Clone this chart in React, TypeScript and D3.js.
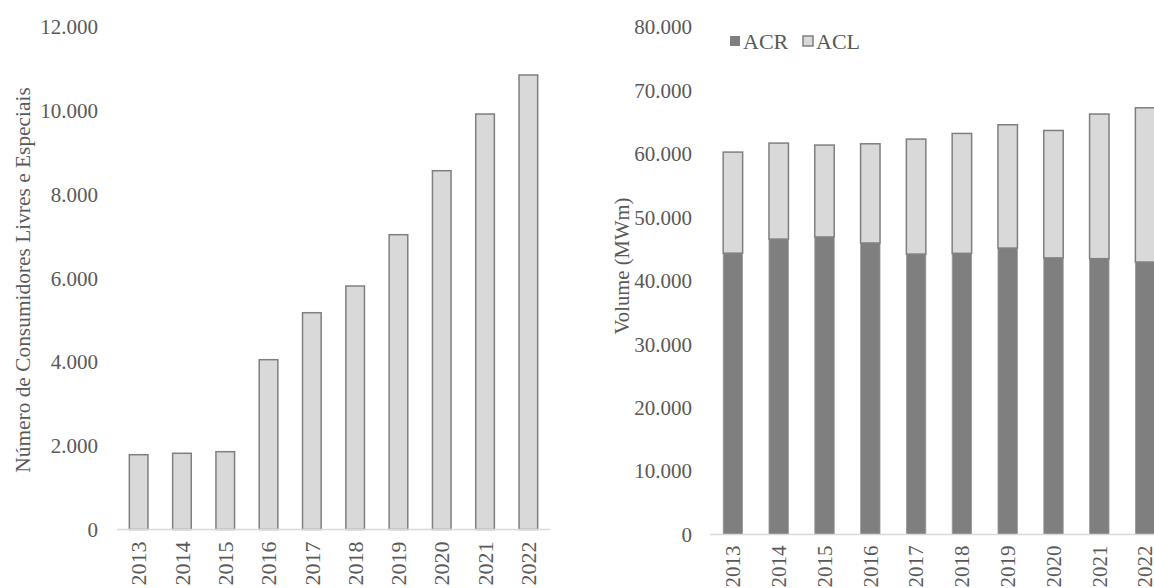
import React from "react";
import * as d3 from "d3";

const years = ["2013", "2014", "2015", "2016", "2017", "2018", "2019", "2020", "2021", "2022"];

// Free and special consumers (count)
const consumers = [1786, 1820, 1858, 4055, 5177, 5815, 7040, 8568, 9922, 10854];

// Traded volume by environment (MWm)
const acr = [44350, 46560, 46900, 45950, 44200, 44320, 45150, 43600, 43480, 42950];
const acl = [15930, 15140, 14490, 15640, 18130, 18900, 19440, 20090, 22800, 24320];

const leftTicks = [0, 2000, 4000, 6000, 8000, 10000, 12000];
const rightTicks = [0, 10000, 20000, 30000, 40000, 50000, 60000, 70000, 80000];

const seriesNames = ["ACR", "ACL"];

const ptBR = d3.formatLocale({ decimal: ",", thousands: ".", grouping: [3], currency: ["R$", ""] });
const fmt = ptBR.format(",");

const FONT = "'Liberation Serif', 'Times New Roman', serif";
const TEXT = "#595959";
const TICK_FS = 21;
const DARK = "#7f7f7f";
const LIGHT = "#d9d9d9";
const AXIS = "#d9d9d9";

function LeftChart() {
  const x = d3.scaleBand<string>().domain(years).range([117, 550]).paddingInner(0.57).paddingOuter(0.285);
  const y = d3.scaleLinear().domain([0, 12000]).range([529.5, 27]);
  return (
    <g>
      {leftTicks.map((t) => (
        <text key={t} x={98} y={y(t)} dy="0.35em" textAnchor="end" fontSize={TICK_FS} fill={TEXT} fontFamily={FONT}>
          {fmt(t)}
        </text>
      ))}
      <text
        transform="translate(22,280) rotate(-90)"
        textAnchor="middle"
        dy="0.35em"
        fontSize={21.4}
        fill={TEXT}
        fontFamily={FONT}
      >
        Número de Consumidores Livres e Especiais
      </text>
      {consumers.map((v, i) => (
        <rect
          key={years[i]}
          x={x(years[i])!}
          y={y(v)}
          width={x.bandwidth()}
          height={y(0) - y(v)}
          fill={LIGHT}
          stroke={DARK}
          strokeWidth={1.5}
        />
      ))}
      <line x1={117} x2={550} y1={y(0)} y2={y(0)} stroke={AXIS} strokeWidth={1.5} />
      {years.map((yr) => (
        <text
          key={yr}
          transform={`translate(${x(yr)! + x.bandwidth() / 2},${y(0) + 12}) rotate(-90)`}
          textAnchor="end"
          dy="0.35em"
          fontSize={22}
          fill={TEXT}
          fontFamily={FONT}
        >
          {yr}
        </text>
      ))}
    </g>
  );
}

function RightChart() {
  const x = d3.scaleBand<string>().domain(years).range([710, 1168]).paddingInner(0.575).paddingOuter(0.2875);
  const y = d3.scaleLinear().domain([0, 80000]).range([534.5, 27]);
  const rows = years.map((yr, i) => ({ year: yr, ACR: acr[i], ACL: acl[i] }));
  const stacked = d3.stack<any>().keys(seriesNames)(rows);
  const fills: Record<string, string> = { ACR: DARK, ACL: LIGHT };
  return (
    <g>
      {rightTicks.map((t) => (
        <text key={t} x={692} y={y(t)} dy="0.35em" textAnchor="end" fontSize={TICK_FS} fill={TEXT} fontFamily={FONT}>
          {fmt(t)}
        </text>
      ))}
      <text
        transform="translate(622,266) rotate(-90)"
        textAnchor="middle"
        dy="0.35em"
        fontSize={20.7}
        fill={TEXT}
        fontFamily={FONT}
      >
        Volume (MWm)
      </text>
      {stacked.map((s) => (
        <g key={s.key}>
          {s.map((d, i) => (
            <rect
              key={years[i]}
              x={x(years[i])!}
              y={y(d[1])}
              width={x.bandwidth()}
              height={y(d[0]) - y(d[1])}
              fill={fills[s.key]}
              stroke={s.key === "ACL" ? DARK : "#9a9a9a"}
              strokeWidth={s.key === "ACL" ? 1.5 : 0.75}
            />
          ))}
        </g>
      ))}
      <line x1={710} x2={1168} y1={y(0)} y2={y(0)} stroke={AXIS} strokeWidth={1.5} />
      {years.map((yr) => (
        <text
          key={yr}
          transform={`translate(${x(yr)! + x.bandwidth() / 2},${y(0) + 11}) rotate(-90)`}
          textAnchor="end"
          dy="0.35em"
          fontSize={21}
          fill={TEXT}
          fontFamily={FONT}
        >
          {yr}
        </text>
      ))}
      {/* legend */}
      {seriesNames.map((name, i) => {
        const lx = 730 + i * 73;
        return (
          <g key={name}>
            <rect x={lx} y={36} width={10} height={10} fill={fills[name]} stroke={DARK} strokeWidth={name === "ACL" ? 1.5 : 0} />
            <text x={lx + 13} y={41} dy="0.35em" fontSize={22} fill={TEXT} fontFamily={FONT}>
              {name}
            </text>
          </g>
        );
      })}
    </g>
  );
}

export default function App() {
  return (
    <svg
      width={1154}
      height={588}
      style={{ position: "absolute", left: 0, top: 0, overflow: "hidden", background: "#fff" }}
    >
      <rect width={1154} height={588} fill="#fff" />
      <LeftChart />
      <RightChart />
    </svg>
  );
}
